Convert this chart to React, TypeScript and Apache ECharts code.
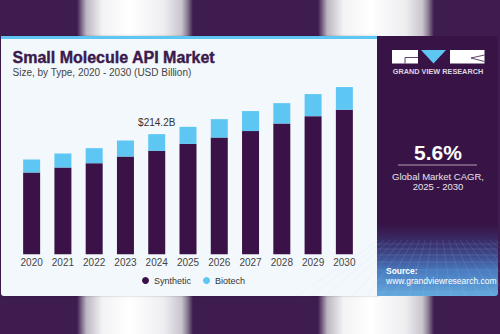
import React, { useEffect, useRef } from "react";
import * as echarts from "echarts";

const years = ["2020", "2021", "2022", "2023", "2024", "2025", "2026", "2027", "2028", "2029", "2030"];
const synthetic = [145.7, 154.6, 162.4, 174.2, 184.4, 196.9, 208.1, 219.6, 233.1, 246.3, 257.6];
const biotech = [23.2, 25.0, 26.8, 28.6, 29.8, 30.3, 32.8, 35.7, 36.4, 39.3, 40.5];
const seriesNames = ["Synthetic", "Biotech"];
const highlightIndex = 4;
const highlightLabel = "$214.2B";
const titleText = "Small Molecule API Market";
const subtitleText = "Size, by Type, 2020 - 2030 (USD Billion)";
const cagrValue = "5.6%";
const cagrLine1 = "Global Market CAGR,";
const cagrLine2 = "2025 - 2030";

const PURPLE_BG = "#3e1c50";
const PANEL = "#381446";
const DARK = "#3a1248";
const BLUE = "#5ec6f3";
const FONT = "'Liberation Sans', Arial, sans-serif";

function band(x: number) {
  return {
    type: "rect",
    z: 0,
    shape: { x, y: 0, width: 116, height: 334 },
    style: {
      fill: {
        type: "linear", x: 0, y: 0, x2: 1, y2: 0,
        colorStops: [
          { offset: 0, color: PURPLE_BG },
          { offset: 0.08, color: "#bdb6c2" },
          { offset: 0.22, color: "#f3f3f5" },
          { offset: 0.45, color: "#ffffff" },
          { offset: 0.75, color: "#eeeef1" },
          { offset: 0.9, color: "#c9c5cd" },
          { offset: 0.95, color: "#8c7f95" },
          { offset: 1, color: PURPLE_BG },
        ],
      },
    },
  };
}

function gridLines() {
  const els: any[] = [];
  const x0 = 377, x1 = 498, yTop = 240, yBot = 296;
  const hs = [244, 249, 255, 262, 270, 280, 292];
  hs.forEach((y) => {
    els.push({ type: "line", z: 1, shape: { x1: x0, y1: y, x2: x1, y2: y }, style: { stroke: "rgba(170,210,255,0.25)", lineWidth: 0.6 } });
  });
  const vx = 437, vy = 200;
  for (let i = -10; i <= 10; i++) {
    const bx = 437 + i * 14;
    const t = (yTop - vy) / (yBot - vy);
    const sx = vx + (bx - vx) * t;
    els.push({ type: "line", z: 1, shape: { x1: sx, y1: yTop, x2: bx, y2: yBot }, style: { stroke: "rgba(170,210,255,0.22)", lineWidth: 0.6 } });
  }
  return els;
}

export default function App() {
  const ref = useRef<HTMLDivElement>(null);
  useEffect(() => {
    if (!ref.current) return;
    const chart = echarts.init(ref.current, null, { renderer: "svg" });
    const option: any = {
      animation: false,
      backgroundColor: PURPLE_BG,
      textStyle: { fontFamily: FONT },
      graphic: [
        band(77),
        band(318),
        {
          type: "rect", z: 0,
          shape: { x: 1, y: 36, width: 378, height: 260, r: [3, 0, 0, 3] },
          style: { fill: "#f3f8fc", shadowBlur: 2, shadowColor: "rgba(0,0,0,0.25)" },
        },
        { type: "rect", z: 0, shape: { x: 1, y: 36, width: 378, height: 3 }, style: { fill: BLUE } },
        {
          type: "rect", z: 0,
          shape: { x: 377, y: 36, width: 121, height: 260, r: [0, 3, 3, 0] },
          style: { fill: PANEL },
        },
        {
          type: "rect", z: 0,
          shape: { x: 377, y: 225, width: 121, height: 71, r: [0, 0, 3, 0] },
          style: {
            fill: {
              type: "linear", x: 0, y: 0, x2: 0, y2: 1,
              colorStops: [
                { offset: 0, color: "rgba(60,90,170,0)" },
                { offset: 0.3, color: "rgba(60,95,170,0.45)" },
                { offset: 0.65, color: "#4a7cc0" },
                { offset: 1, color: "#63a9de" },
              ],
            },
          },
        },
        ...gridLines(),
        // logo
        { type: "rect", z: 1, shape: { x: 392, y: 50, width: 26, height: 13.5 }, style: { fill: "#ffffff" } },
        { type: "polygon", z: 1, shape: { points: [[421, 50], [446, 50], [433.5, 63.5]] }, style: { fill: BLUE } },
        { type: "rect", z: 1, shape: { x: 450, y: 50, width: 34.5, height: 13.5 }, style: { fill: "#ffffff" } },
        { type: "polyline", z: 2, shape: { points: [[418, 57.5], [405, 57.5], [405, 63.5]] }, style: { stroke: PANEL, lineWidth: 0.8, fill: null } },
        { type: "polyline", z: 2, shape: { points: [[484.5, 55], [471, 58], [484.5, 61.5]] }, style: { stroke: PANEL, lineWidth: 0.8, fill: null } },
        {
          type: "text", z: 2, x: 438, y: 71.5,
          style: { text: "GRAND VIEW RESEARCH", fill: "#dcd6e2", fontSize: 7.3, fontWeight: "bold", fontFamily: FONT, textAlign: "center", textVerticalAlign: "middle" },
        },
        // title
        {
          type: "text", z: 2, x: 12.5, y: 57.5,
          style: { text: titleText, fill: "#3b1a4c", fontSize: 16, fontWeight: 900, fontFamily: FONT, textAlign: "left", textVerticalAlign: "middle", stroke: "#3b1a4c", lineWidth: 0.4 },
        },
        {
          type: "text", z: 2, x: 12.5, y: 72.5,
          style: { text: subtitleText, fill: "#444444", fontSize: 10, fontFamily: FONT, textAlign: "left", textVerticalAlign: "middle" },
        },
        // CAGR
        {
          type: "text", z: 2, x: 438, y: 152.5,
          style: { text: cagrValue, fill: "#ffffff", fontSize: 21, fontWeight: "bold", fontFamily: FONT, textAlign: "center", textVerticalAlign: "middle" },
        },
        { type: "line", z: 2, shape: { x1: 398, y1: 165, x2: 477, y2: 165 }, style: { stroke: "rgba(255,255,255,0.75)", lineWidth: 0.8 } },
        {
          type: "text", z: 2, x: 438, y: 176,
          style: { text: cagrLine1, fill: "#e8e4ee", fontSize: 9.5, fontFamily: FONT, textAlign: "center", textVerticalAlign: "middle" },
        },
        {
          type: "text", z: 2, x: 438, y: 186.5,
          style: { text: cagrLine2, fill: "#e8e4ee", fontSize: 9.5, fontFamily: FONT, textAlign: "center", textVerticalAlign: "middle" },
        },
        {
          type: "text", z: 2, x: 386, y: 271,
          style: { text: "Source:", fill: "#ffffff", fontSize: 8.5, fontWeight: "bold", fontFamily: FONT, textAlign: "left", textVerticalAlign: "middle" },
        },
        {
          type: "text", z: 2, x: 386, y: 281,
          style: { text: "www.grandviewresearch.com", fill: "#ffffff", fontSize: 8.5, fontFamily: FONT, textAlign: "left", textVerticalAlign: "middle" },
        },
      ],
      legend: {
        data: seriesNames,
        icon: "circle",
        itemWidth: 7,
        itemHeight: 7,
        itemGap: 12,
        left: 137,
        top: 271,
        textStyle: { fontSize: 9, color: "#333333", fontFamily: FONT },
      },
      grid: { left: 16, width: 344, top: 86, height: 168.3, containLabel: false },
      xAxis: {
        type: "category",
        data: years,
        axisLine: { show: false },
        axisTick: { show: false },
        axisLabel: { fontSize: 10, color: "#444444", margin: 3, fontFamily: FONT },
      },
      yAxis: { type: "value", min: 0, max: 300, show: false, splitLine: { show: false } },
      series: [
        {
          name: seriesNames[0],
          type: "bar",
          stack: "total",
          barWidth: 17,
          data: synthetic,
          itemStyle: { color: DARK },
        },
        {
          name: seriesNames[1],
          type: "bar",
          stack: "total",
          barWidth: 17,
          data: biotech,
          itemStyle: { color: BLUE },
          label: {
            show: true,
            position: "top",
            distance: 7,
            fontSize: 10,
            color: "#333333",
            fontFamily: FONT,
            formatter: (p: any) => (p.dataIndex === highlightIndex ? highlightLabel : ""),
          },
        },
      ],
    };
    chart.setOption(option);
    return () => chart.dispose();
  }, []);
  return <div ref={ref} style={{ position: "fixed", left: 0, top: 0, width: 500, height: 334 }} />;
}
